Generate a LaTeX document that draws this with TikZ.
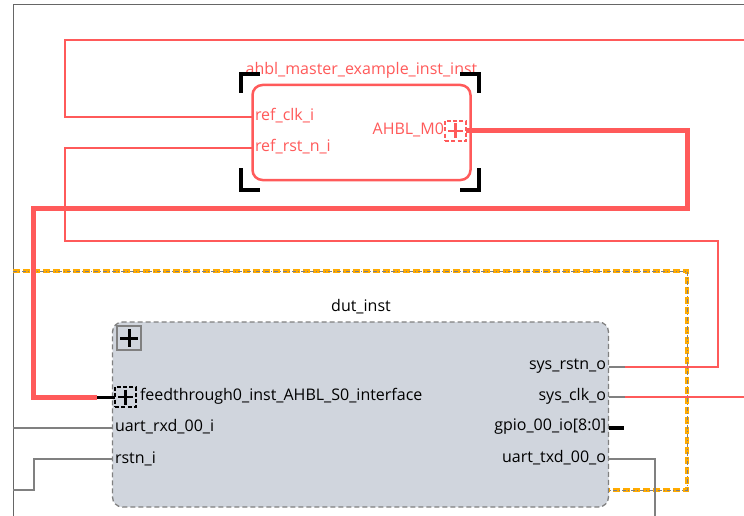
\documentclass[tikz,border=0pt]{standalone}
\usepackage{fontspec}
\setmainfont{Open Sans}
\begin{document}
\begin{tikzpicture}[x=1pt,y=-1pt,
  every node/.style={inner sep=0pt,outer sep=0pt},
  lbl/.style={font=\fontsize{16}{18}\selectfont},
  redlbl/.style={lbl,text=wirered},
  wire/.style={draw=wirered,line width=2.2pt,line join=miter},
  bus/.style={draw=wirered,line width=5pt,line join=miter},
  stub/.style={draw=stubgray,line width=1.3pt},
  bracket/.style={draw=black,line width=4pt,line cap=butt},
  portbox/.style={draw,line width=1.6pt,minimum size=20.5pt,dash pattern=on 4pt off 2.2pt},
]
\definecolor{wirered}{RGB}{255,90,90}
\definecolor{stubgray}{RGB}{128,128,128}
\definecolor{boxfill}{RGB}{208,213,221}
\definecolor{hierorange}{RGB}{255,170,0}
\useasboundingbox (0,0) rectangle (744,516);
\fill[white] (0,0) rectangle (744,516);

% outer sheet border
\draw[draw=stubgray!80!black,line width=1pt] (13,516) -- (13,5) -- (744,5);

% ---------- master instance ----------
\node[draw=wirered,line width=2.5pt,rounded corners=10pt,minimum width=218pt,minimum height=95pt]
  (mst) at (361.5,132.5) {};
\node[redlbl,anchor=south] (msttitle) at (361.5,78) {ahbl\_master\_example\_inst\_inst};
% selection brackets
\draw[bracket] (241,93) -- (241,74) -- (260,74);
\draw[bracket] (241,168) -- (241,190) -- (260,190);
\draw[bracket] (460,74) -- (479,74) -- (479,93);
\draw[bracket] (460,190) -- (479,190) -- (479,168);

\coordinate (clk) at (252,117);
\coordinate (rst) at (252,148);
\node[redlbl,anchor=west] (clklbl) at (255,116) {ref\_clk\_i};
\node[redlbl,anchor=west] (rstlbl) at (255,147) {ref\_rst\_n\_i};
\node[portbox,draw=wirered] (mport) at (455.5,131) {};
\draw[wirered,line width=2.8pt] (mport.center) ++(-7.5,0) -- ++(15,0) (mport.center) ++(0,-7.5) -- ++(0,15);
\node[redlbl,anchor=east] (mlbl) at (444,130) {AHBL\_M0};

% ---------- hierarchy outline ----------
\draw[hierorange,line width=4.5pt,dash pattern=on 7pt off 3pt] (13,271) -- (687,271) -- (687,490) -- (609,490);
\draw[stubgray,line width=0.8pt,dash pattern=on 4pt off 2pt on 1pt off 2pt] (13,271) -- (687,271) -- (687,490) -- (609,490);

% ---------- dut instance ----------
\node[draw=stubgray,fill=boxfill,line width=1.3pt,dashed,dash pattern=on 5pt off 3pt,rounded corners=10pt,
  minimum width=496pt,minimum height=185pt] (dut) at (360.5,414.5) {};
\node[lbl,anchor=south] (duttitle) at (361,314) {dut\_inst};
\node[draw=stubgray,line width=1.5pt,minimum size=24pt] (expand) at (129,338) {};
\draw[black,line width=3pt] (expand.center) ++(-9,0) -- ++(18,0) (expand.center) ++(0,-9) -- ++(0,18);

% left ports
\node[portbox,draw=black] (sport) at (125.5,397) {};
\draw[black,line width=2.6pt] (sport.center) ++(-7.5,0) -- ++(15,0) (sport.center) ++(0,-7.5) -- ++(0,15);
\node[lbl,anchor=west] (slbl) at (140,396) {feedthrough0\_inst\_AHBL\_S0\_interface};
\node[lbl,anchor=west] (rxdlbl) at (115,427) {uart\_rxd\_00\_i};
\node[lbl,anchor=west] (rstnlbl) at (115,459) {rstn\_i};
\coordinate (rxd) at (112,428);
\coordinate (rstn) at (112,459);

% right ports
\node[lbl,anchor=east] (srlbl) at (606,366) {sys\_rstn\_o};
\node[lbl,anchor=east] (sclbl) at (606,396) {sys\_clk\_o};
\node[lbl,anchor=east] (gplbl) at (606,427) {gpio\_00\_io[8:0]};
\node[lbl,anchor=east] (txlbl) at (606,458) {uart\_txd\_00\_o};
\coordinate (srst) at (609,367);
\coordinate (sclk) at (609,397);
\coordinate (gpio) at (609,428);
\coordinate (utx) at (609,459);

% ---------- connections ----------
% reference clock loop
\draw[wire] (clk) -- (65,117) -- (65,40) -- (744,40);
% reset loop, returns from sys_rstn_o
\draw[stub] (srst) -- (625,367);
\draw[wire] (rst) -- (65,148) -- (65,241) -- (718,241) -- (718,367) -- (625,367);
% system clock out
\draw[stub] (sclk) -- (625,397);
\draw[wire] (625,397) -- (744,397);
% AHB bus from master to slave interface
\draw[bus] (mport.east) -- (687,131) -- (687,208) -- (33,208) -- (33,397) -- (97,397);
\draw[black,line width=3pt] (97,397) -- (sport.west);
% gpio stub
\draw[black,line width=3.5pt] (gpio) -- (624,428);
% uart and reset lines
\draw[stub] (rxd) -- (13,428);
\draw[stub] (rstn) -- (34,459) -- (34,490) -- (13,490);
\draw[stub] (utx) -- (655,459) -- (655,516);
\end{tikzpicture}
\end{document}
